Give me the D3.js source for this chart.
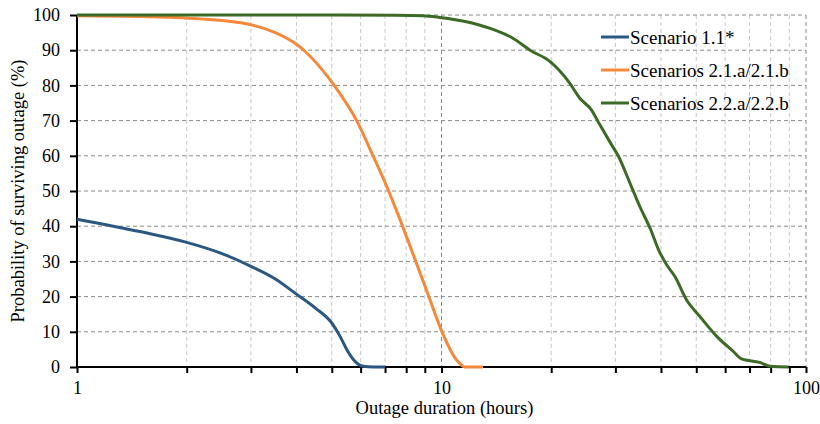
<!DOCTYPE html>
<html>
<head>
<meta charset="utf-8">
<script src="https://cdn.jsdelivr.net/npm/d3@7"></script>
<style>
  body { margin: 0; background: #fff; }
  svg { display: block; font-family: "Liberation Serif", "Times New Roman", serif; }
  .grid-h line { stroke: #8a8a8a; stroke-dasharray: 4,3; stroke-width: 1; }
  .grid-v line { stroke: #c8c8c8; stroke-dasharray: 4,3; stroke-width: 1; }
  .grid-v line.major { stroke: #8a8a8a; }
  .axis path, .axis line { stroke: #000; stroke-width: 2; }
  .axis text { font-size: 18px; fill: #000; font-family: "Liberation Serif", serif; }
</style>
</head>
<body>
<svg id="chart"></svg>
<script>
var chartWidth = 820, chartHeight = 424;
var margin = {top: 15, right: 14, bottom: 57, left: 77};

var seriesNames = ["Scenario 1.1*", "Scenarios 2.1.a/2.1.b", "Scenarios 2.2.a/2.2.b"];
var seriesColors = ["#2b5783", "#f5883a", "#3d6a26"];

// outage duration (hours) / probability of surviving (%)
var s11Hours = [1, 1.5, 2, 2.5, 3, 3.5, 4, 4.5, 5.0, 5.27, 5.5, 5.79, 6.1, 6.5, 7];
var s11Prob  = [42, 38.4, 35.4, 32.2, 28.6, 25.0, 20.7, 16.8, 12.5, 8.7, 4.9, 1.6, 0.2, 0, 0];

var s21Hours = [1, 1.5, 2.17, 2.98, 3.5, 4.01, 4.22, 5.1, 5.85, 6.49, 7.16, 7.7, 8.5, 9.23, 10.03, 11.0, 11.6, 13.0];
var s21Prob  = [99.8, 99.6, 98.9, 97.3, 95.0, 91.6, 89.7, 79.7, 70, 60, 50, 41.8, 30, 20, 10, 2, 0, 0];

var s22Hours = [1, 5, 7.5, 8.9, 9.9, 11.7, 13.6, 15.7, 17.5, 19.9, 22.5, 23.9, 25.8, 27.2, 29.1, 30.6, 32.9, 35.0, 37.5, 39.4, 41.5, 43.7, 47.0, 51.1, 56.9, 63.2, 66.5, 74.6, 79.8, 89.5];
var s22Prob  = [100, 100, 99.95, 99.8, 99.3, 98.1, 96.2, 93.4, 90, 86.7, 80.6, 76.5, 73, 68.8, 63.6, 59.8, 52.2, 45.6, 39, 33.3, 29, 25.7, 19.1, 14.4, 8.7, 4.4, 2.3, 1.3, 0.2, 0];

var xTickValues = [1, 2, 3, 4, 5, 6, 7, 8, 9, 10, 20, 30, 40, 50, 60, 70, 80, 90, 100];
var xTickLabels = {1: "1", 10: "10", 100: "100"};
var yTickValues = [0, 10, 20, 30, 40, 50, 60, 70, 80, 90, 100];

var xTitle = "Outage duration (hours)";
var yTitle = "Probability of surviving outage (%)";

var allSeries = [
    {hours: s11Hours, prob: s11Prob},
    {hours: s21Hours, prob: s21Prob},
    {hours: s22Hours, prob: s22Prob}
];

var innerW = chartWidth - margin.left - margin.right;
var innerH = chartHeight - margin.top - margin.bottom;

var xScale = d3.scaleLog().domain([1, 100]).range([0, innerW]);
var yScale = d3.scaleLinear().domain([0, 100]).range([innerH, 0]);

var svg = d3.select("#chart")
    .attr("width", chartWidth)
    .attr("height", chartHeight);

var g = svg.append("g")
    .attr("transform", "translate(" + margin.left + "," + margin.top + ")");

// gridlines
g.append("g").attr("class", "grid-v")
    .selectAll("line")
    .data(xTickValues.slice(1))
    .enter().append("line")
        .attr("class", function(d) { return xTickLabels[d] ? "major" : null; })
        .attr("x1", xScale).attr("x2", xScale)
        .attr("y1", 0).attr("y2", innerH);

g.append("g").attr("class", "grid-h")
    .selectAll("line")
    .data(yTickValues.slice(1))
    .enter().append("line")
        .attr("x1", 0).attr("x2", innerW)
        .attr("y1", yScale).attr("y2", yScale);

// axes
var xAxis = d3.axisBottom(xScale)
    .tickValues(xTickValues)
    .tickSize(6)
    .tickPadding(8)
    .tickFormat(function(d) { return xTickLabels[d] || ""; });

g.append("g").attr("class", "axis")
    .attr("transform", "translate(0," + innerH + ")")
    .call(xAxis)
    .call(function(a) { a.select(".domain").attr("d", "M0,0H" + innerW); });

var yAxis = d3.axisLeft(yScale)
    .tickValues(yTickValues)
    .tickSize(7)
    .tickPadding(10);

g.append("g").attr("class", "axis")
    .call(yAxis)
    .call(function(a) { a.select(".domain").attr("d", "M0,0V" + innerH); });

// lines
var line = d3.line()
    .x(function(d) { return xScale(d[0]); })
    .y(function(d) { return yScale(d[1]); })
    .curve(d3.curveMonotoneX);

g.selectAll("path.series")
    .data(allSeries)
    .enter().append("path")
        .attr("class", "series")
        .attr("fill", "none")
        .attr("stroke-width", 3)
        .attr("stroke-linejoin", "round")
        .attr("stroke", function(d, i) { return seriesColors[i]; })
        .attr("d", function(d) {
            return line(d.hours.map(function(h, i) { return [h, d.prob[i]]; }));
        });

// legend
var legend = svg.append("g")
    .attr("transform", "translate(601,37)");

var legendRows = legend.selectAll("g")
    .data(seriesNames)
    .enter().append("g")
        .attr("transform", function(d, i) { return "translate(0," + i * 33 + ")"; });

legendRows.append("line")
    .attr("x1", 0).attr("x2", 28)
    .attr("stroke-width", 3)
    .attr("stroke", function(d, i) { return seriesColors[i]; });

legendRows.append("text")
    .text(function(d) { return d; })
    .attr("x", 29)
    .attr("y", 6.5)
    .style("font-size", "19px");

// axis titles
svg.append("text")
    .text(xTitle)
    .attr("x", margin.left + xScale(10) + 3)
    .attr("y", 413.5)
    .attr("text-anchor", "middle")
    .style("font-size", "18.5px");

svg.append("text")
    .text(yTitle)
    .attr("transform", "translate(24," + (margin.top + innerH / 2) + ") rotate(-90)")
    .attr("text-anchor", "middle")
    .style("font-size", "18.5px");
</script>
</body>
</html>
